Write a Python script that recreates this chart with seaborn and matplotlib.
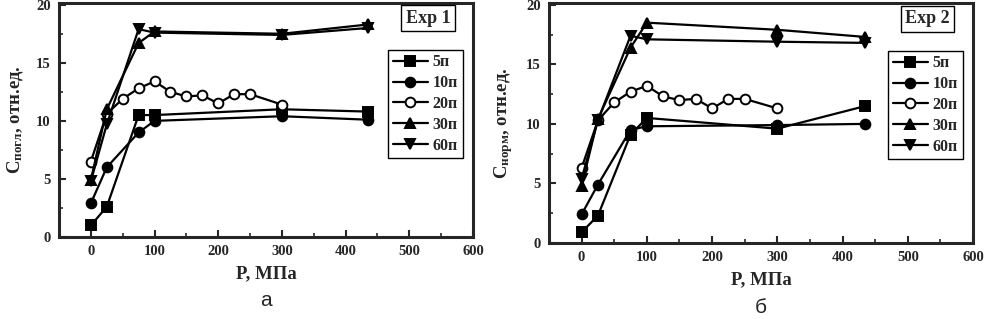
import numpy as np
import pandas as pd
import seaborn as sns
import matplotlib
matplotlib.use("Agg")
import matplotlib.pyplot as plt
from matplotlib.ticker import MultipleLocator

# data
labels = ["5п", "10п", "20п", "30п", "60п"]
p_short = [0, 25, 75, 100, 300, 435]
p_long = [0, 25, 50, 75, 100, 125, 150, 175, 200, 225, 250, 300]

# Exp 1
e1_5 = [1.0, 2.6, 10.5, 10.5, 11.0, 10.8]
e1_10 = [2.9, 6.0, 9.0, 10.0, 10.4, 10.1]
e1_20 = [6.5, 10.6, 11.9, 12.8, 13.4, 12.5, 12.1, 12.2, 11.5, 12.3, 12.3, 11.4]
e1_30 = [4.9, 11.0, 16.7, 17.7, 17.5, 18.3]
e1_60 = [4.8, 9.7, 17.9, 17.6, 17.4, 18.0]

# Exp 2
e2_5 = [0.9, 2.3, 9.1, 10.5, 9.6, 11.5]
e2_10 = [2.4, 4.9, 9.5, 9.8, 9.9, 10.0]
e2_20 = [6.3, 10.3, 11.8, 12.7, 13.2, 12.3, 12.0, 12.1, 11.3, 12.1, 12.1, 11.3]
e2_30 = [4.8, 10.4, 16.4, 18.5, 17.9, 17.3]
e2_60 = [5.4, 10.3, 17.4, 17.1, 16.9, 16.8]

sns.set_style("ticks")
plt.rcParams["font.family"] = ["Liberation Serif", "DejaVu Serif"]
plt.rcParams["font.weight"] = "bold"
plt.rcParams["mathtext.fontset"] = "custom"
plt.rcParams["mathtext.rm"] = "Liberation Serif:bold"
plt.rcParams["mathtext.bf"] = "Liberation Serif:bold"
plt.rcParams["mathtext.it"] = "Liberation Serif:bold"

markers = ["s", "o", "o", "^", "v"]
faces = ["black", "black", "white", "black", "black"]


def draw(ax, series, exp_name, ylabel, sub):
    xs = [p_short, p_short, p_long, p_short, p_short]
    for x, y, lab, m, fc in zip(xs, series, labels, markers, faces):
        df = pd.DataFrame({"P": x, "C": y})
        sns.lineplot(data=df, x="P", y="C", ax=ax, color="black", lw=1.6,
                     marker=m, markersize=7, markerfacecolor=fc,
                     markeredgecolor="black", markeredgewidth=1.4,
                     label=lab, sort=False)
    ax.set_xlim(-50, 600)
    ax.set_ylim(0, 20.15)
    ax.xaxis.set_major_locator(MultipleLocator(100))
    ax.xaxis.set_minor_locator(MultipleLocator(50))
    ax.yaxis.set_major_locator(MultipleLocator(5))
    ax.yaxis.set_minor_locator(MultipleLocator(2.5))
    ax.tick_params(which="major", direction="in", length=5, width=1.5,
                   labelsize=10.5, pad=6, top=False, right=False)
    ax.tick_params(which="minor", direction="in", length=3, width=1.2,
                   top=False, right=False)
    for s in ax.spines.values():
        s.set_linewidth(2.2)
        s.set_visible(True)
    ax.set_xlabel("P, МПа", fontsize=13.5, fontweight="bold", labelpad=5)
    ax.set_ylabel(ylabel, fontsize=13.5, fontweight="bold", labelpad=8)
    leg = ax.legend(loc="upper right", bbox_to_anchor=(0.995, 0.835),
                    fontsize=11.5, handlelength=2.2, handletextpad=0.3,
                    labelspacing=0.3, borderpad=0.3, fancybox=False,
                    framealpha=1, edgecolor="black")
    leg.get_frame().set_linewidth(1.0)
    ax.text(0.945, 0.935, exp_name, transform=ax.transAxes, ha="right",
            va="center", fontsize=13, fontweight="bold",
            bbox=dict(boxstyle="square,pad=0.25", fc="white", ec="black", lw=1.0))
    ax.text(0.5, -0.27, sub, transform=ax.transAxes, ha="center", va="center",
            fontsize=15, fontweight="normal", family="Liberation Sans")


fig = plt.figure(figsize=(9.85, 3.19), dpi=100)
ax1 = fig.add_axes([59 / 985, 82 / 319, 414 / 985, 234 / 319])
ax2 = fig.add_axes([549 / 985, 76 / 319, 424 / 985, 240 / 319])

draw(ax1, [e1_5, e1_10, e1_20, e1_30, e1_60], "Exp 1",
     r"$\mathbf{C}_{\mathbf{погл}}$, отн.ед.", "а")
draw(ax2, [e2_5, e2_10, e2_20, e2_30, e2_60], "Exp 2",
     r"$\mathbf{C}_{\mathbf{норм}}$, отн.ед.", "б")

fig.savefig("out.png", dpi=100)
